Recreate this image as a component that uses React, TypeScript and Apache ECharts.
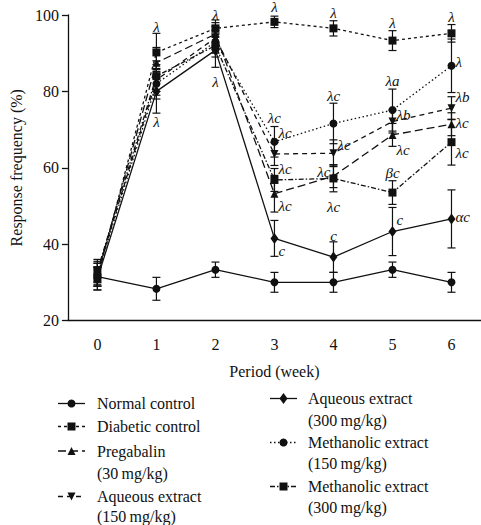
import React, { useEffect, useRef } from 'react';
import * as echarts from 'echarts';

const weeks = ['0', '1', '2', '3', '4', '5', '6'];

const normalControl = [31.5, 28.3, 33.3, 30, 30, 33.3, 30];
const normalErr = [2.5, 3, 2, 2.6, 2.6, 2, 2.6];

const diabeticControl = [31, 90.2, 96.5, 98.2, 96.5, 93.3, 95.2];
const diabeticErr = [3, 5, 2.2, 1.5, 2, 2.6, 2.3];

const pregabalin = [32, 87.5, 95, 53.2, 57.8, 68.6, 71.4];
const pregabalinErr = [3, 4, 3, 4.8, 3, 3, 3];

const aqueous150 = [32.5, 83, 94, 63.6, 63.8, 72.1, 75.6];
const aqueous150Err = [3, 4, 3, 3, 3.5, 3, 3];

const aqueous300 = [31, 80, 90.8, 41.5, 36.6, 43.3, 46.6];
const aqueous300Err = [3, 5.7, 4.5, 4.7, 4, 6.3, 7.6];

const methanolic150 = [32, 82, 93, 66.8, 71.6, 75.1, 86.7];
const methanolic150Err = [3, 4, 3, 4, 5.3, 5.5, 7];

const methanolic300 = [33, 84, 92, 56.8, 57.2, 53.5, 66.7];
const methanolic300Err = [3, 4, 3, 3, 3.5, 3.1, 6];

const yTicks = [20, 40, 60, 80, 100];

// [week index, value, text, side]  side: c = centred, r = right of bar, l = left of bar
const annotations: [number, number, string, string][] = [
  [1, 96.9, 'λ', 'c'], [1, 72.1, 'λ', 'c'],
  [2, 100, 'λ', 'c'], [2, 82.5, 'λ', 'c'],
  [3, 102.1, 'λ', 'c'], [3, 73, 'λc', 'c'], [3, 69.1, 'λc', 'r'], [3, 59.7, 'λc', 'r'], [3, 50, 'λc', 'r'], [3, 38.2, 'c', 'r'],
  [4, 100.4, 'λ', 'c'], [4, 78.8, 'λc', 'c'], [4, 66, 'λc', 'r'], [4, 58.9, 'λc', 'l'], [4, 49.8, 'λc', 'c'], [4, 42.1, 'c', 'c'],
  [5, 98, 'λ', 'c'], [5, 82.7, 'λa', 'c'], [5, 73.8, 'λb', 'r'], [5, 64.7, 'λc', 'r'], [5, 58.6, 'βc', 'c'], [5, 46.2, 'c', 'r'],
  [6, 99.6, 'λ', 'c'], [6, 87.7, 'λ', 'r'], [6, 78.4, 'λb', 'r'], [6, 71.7, 'λc', 'r'], [6, 63.9, 'λc', 'r'], [6, 47.2, 'αc', 'r'],
];

const FONT = '"Liberation Serif", "DejaVu Serif", serif';
const INK = '#111';

type Def = {
  name: string;
  legend: string[];
  data: number[];
  err: number[];
  symbol: string;
  size: number | number[];
  rotate?: number;
  dash: number[] | 'solid';
};

const defs: Def[] = [
  { name: 'Normal control', legend: ['Normal control'], data: normalControl, err: normalErr, symbol: 'circle', size: 8, dash: 'solid' },
  { name: 'Diabetic control', legend: ['Diabetic control'], data: diabeticControl, err: diabeticErr, symbol: 'rect', size: 8, dash: [3, 3] },
  { name: 'Pregabalin (30 mg/kg)', legend: ['Pregabalin', '(30\u2009mg/kg)'], data: pregabalin, err: pregabalinErr, symbol: 'triangle', size: 8, dash: [8, 4] },
  { name: 'Aqueous extract (150 mg/kg)', legend: ['Aqueous extract', '(150\u2009mg/kg)'], data: aqueous150, err: aqueous150Err, symbol: 'triangle', size: 8, rotate: 180, dash: [5, 4] },
  { name: 'Aqueous extract (300 mg/kg)', legend: ['Aqueous extract', '(300\u2009mg/kg)'], data: aqueous300, err: aqueous300Err, symbol: 'diamond', size: [8, 11], dash: 'solid' },
  { name: 'Methanolic extract (150 mg/kg)', legend: ['Methanolic extract', '(150\u2009mg/kg)'], data: methanolic150, err: methanolic150Err, symbol: 'circle', size: 8, dash: [1.5, 2.5] },
  { name: 'Methanolic extract (300 mg/kg)', legend: ['Methanolic extract', '(300\u2009mg/kg)'], data: methanolic300, err: methanolic300Err, symbol: 'rect', size: 8, dash: [5, 2, 1.5, 2] },
];

function legendSymbol(d: Def, cx: number, cy: number): any {
  const st = { fill: INK };
  if (d.symbol === 'circle') return { type: 'circle', shape: { cx, cy, r: 4 }, style: st };
  if (d.symbol === 'rect') return { type: 'rect', shape: { x: cx - 4, y: cy - 4, width: 8, height: 8 }, style: st };
  if (d.symbol === 'diamond') return { type: 'polygon', shape: { points: [[cx, cy - 5.5], [cx + 4, cy], [cx, cy + 5.5], [cx - 4, cy]] }, style: st };
  if (d.rotate === 180) return { type: 'polygon', shape: { points: [[cx - 4, cy - 4], [cx + 4, cy - 4], [cx, cy + 4]] }, style: st };
  return { type: 'polygon', shape: { points: [[cx - 4, cy + 4], [cx + 4, cy + 4], [cx, cy - 4]] }, style: st };
}

export default function App() {
  const ref = useRef<HTMLDivElement>(null);
  useEffect(() => {
    const chart = echarts.init(ref.current!, null, { renderer: 'svg' });

    const lineSeries = defs.map((d) => ({
      type: 'line',
      name: d.name,
      data: d.data,
      symbol: d.symbol,
      symbolSize: d.size,
      symbolRotate: d.rotate || 0,
      z: 3,
      lineStyle: { color: INK, width: 1.3, type: d.dash },
      itemStyle: { color: INK },
    }));

    const errSeries = defs.map((d) => ({
      type: 'custom',
      name: d.name + ' err',
      z: 2,
      data: d.data.map((v, i) => [i, v, d.err[i]]),
      renderItem: (params: any, api: any) => {
        const x = api.value(0);
        const v = api.value(1);
        const e = api.value(2);
        const t = api.coord([x, v + e]);
        const b = api.coord([x, v - e]);
        const w = 4;
        const s = { stroke: INK, lineWidth: 1.2 };
        return {
          type: 'group',
          children: [
            { type: 'line', shape: { x1: t[0], y1: t[1], x2: b[0], y2: b[1] }, style: s },
            { type: 'line', shape: { x1: t[0] - w, y1: t[1], x2: t[0] + w, y2: t[1] }, style: s },
            { type: 'line', shape: { x1: b[0] - w, y1: b[1], x2: b[0] + w, y2: b[1] }, style: s },
          ],
        };
      },
    }));

    const annSeries = {
      type: 'custom',
      name: 'annotations',
      z: 4,
      clip: false,
      data: annotations.map((a) => [a[0], a[1]]),
      renderItem: (params: any, api: any) => {
        const a = annotations[params.dataIndex];
        const p = api.coord([a[0], a[1]]);
        const side = a[3];
        const x = side === 'r' ? p[0] + 4 : side === 'l' ? p[0] - 3 : p[0];
        return {
          type: 'text',
          x,
          y: p[1],
          style: {
            text: a[2],
            fontFamily: FONT,
            fontStyle: 'italic',
            fontSize: 15,
            fill: INK,
            align: side === 'r' ? 'left' : side === 'l' ? 'right' : 'center',
            verticalAlign: 'middle',
          },
        };
      },
    };

    // legend as graphic
    const graphics: any[] = [];
    const leftRows = [
      { d: defs[0], ys: [403.5] },
      { d: defs[1], ys: [426.5] },
      { d: defs[2], ys: [451, 473.5] },
      { d: defs[3], ys: [496.5, 516.5] },
    ];
    const rightRows = [
      { d: defs[4], ys: [398.5, 420.5] },
      { d: defs[5], ys: [442.5, 463.5] },
      { d: defs[6], ys: [486.5, 507.5] },
    ];
    const addRows = (rows: any[], x1: number, x2: number, tx: number) => {
      rows.forEach((r) => {
        const cy = r.ys[0];
        graphics.push({
          type: 'line',
          shape: { x1, y1: cy, x2, y2: cy },
          style: { stroke: INK, lineWidth: 1.3, lineDash: r.d.dash === 'solid' ? null : r.d.dash },
        });
        graphics.push(legendSymbol(r.d, (x1 + x2) / 2, cy));
        r.d.legend.forEach((t: string, i: number) => {
          graphics.push({
            type: 'text',
            x: tx,
            y: r.ys[i],
            style: { text: t, fontFamily: FONT, fontSize: 16, fill: INK, align: 'left', verticalAlign: 'middle' },
          });
        });
      });
    };
    addRows(leftRows, 58, 85, 97);
    addRows(rightRows, 270, 297, 308);

    const option: any = {
      animation: false,
      grid: { left: 58, right: 0, top: 15, bottom: 204.5 },
      xAxis: {
        type: 'category',
        data: weeks,
        boundaryGap: true,
        name: 'Period (week)',
        nameLocation: 'middle',
        nameGap: 43,
        nameTextStyle: { fontFamily: FONT, fontSize: 16, color: INK },
        axisLine: { lineStyle: { color: INK, width: 1.3 } },
        axisTick: { alignWithLabel: true, length: 7, lineStyle: { color: INK, width: 1.3 } },
        axisLabel: { fontFamily: FONT, fontSize: 16, color: INK, margin: 16 },
        splitLine: { show: false },
      },
      yAxis: {
        type: 'value',
        min: yTicks[0],
        max: yTicks[yTicks.length - 1],
        interval: 20,
        name: 'Response frequency (%)',
        nameLocation: 'middle',
        nameGap: 43,
        nameTextStyle: { fontFamily: FONT, fontSize: 16, color: INK },
        axisLine: { show: true, lineStyle: { color: INK, width: 1.3 } },
        axisTick: { show: true, length: 6, lineStyle: { color: INK, width: 1.3 } },
        axisLabel: { fontFamily: FONT, fontSize: 16, color: INK, margin: 9 },
        splitLine: { show: false },
      },
      series: [...errSeries, ...lineSeries, annSeries],
      graphic: graphics,
    };
    chart.setOption(option);
    return () => chart.dispose();
  }, []);
  return (
    <div
      ref={ref}
      style={{ position: 'fixed', left: 0, top: 0, width: 481, height: 525, background: '#fff' }}
    />
  );
}
